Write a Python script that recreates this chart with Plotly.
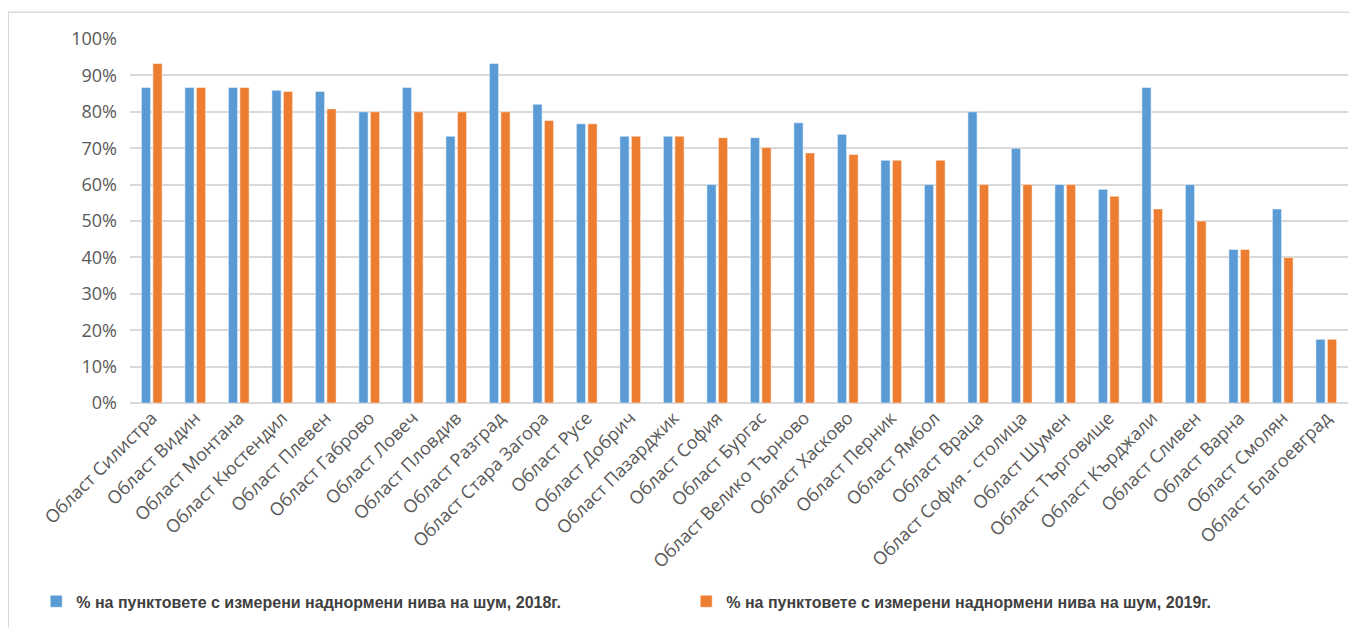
import plotly.graph_objects as go

categories = [
    "Област Силистра", "Област Видин", "Област Монтана", "Област Кюстендил",
    "Област Плевен", "Област Габрово", "Област Ловеч", "Област Пловдив",
    "Област Разград", "Област Стара Загора", "Област Русе", "Област Добрич",
    "Област Пазарджик", "Област София", "Област Бургас", "Област Велико Търново",
    "Област Хасково", "Област Перник", "Област Ямбол", "Област Враца",
    "Област София - столица", "Област Шумен", "Област Търговище", "Област Кърджали",
    "Област Сливен", "Област Варна", "Област Смолян", "Област Благоевград",
]

values_2018 = [0.867, 0.867, 0.867, 0.859, 0.856, 0.80, 0.867, 0.733,
               0.933, 0.821, 0.767, 0.733, 0.733, 0.60, 0.729, 0.770,
               0.738, 0.667, 0.60, 0.80, 0.70, 0.60, 0.587, 0.867,
               0.60, 0.422, 0.533, 0.175]
values_2019 = [0.933, 0.867, 0.867, 0.856, 0.808, 0.80, 0.80, 0.80,
               0.80, 0.776, 0.767, 0.733, 0.733, 0.729, 0.702, 0.687,
               0.683, 0.667, 0.667, 0.60, 0.60, 0.60, 0.568, 0.533,
               0.50, 0.422, 0.40, 0.175]

name_2018 = "% на пунктовете с измерени наднормени нива на шум, 2018г."
name_2019 = "% на пунктовете с измерени наднормени нива на шум, 2019г."

fig = go.Figure()
fig.add_trace(go.Bar(x=categories, y=values_2018, name=name_2018,
                     marker=dict(color="#5B9BD5", line=dict(color="#FFFFFF", width=0.5))))
fig.add_trace(go.Bar(x=categories, y=values_2019, name=name_2019,
                     marker=dict(color="#ED7D31", line=dict(color="#FFFFFF", width=0.5))))

fig.update_layout(
    width=1349, height=620,
    margin=dict(l=122, r=9, t=31, b=223),
    paper_bgcolor="white", plot_bgcolor="white",
    barmode="group", bargap=0.47, bargroupgap=0.2,
    font=dict(family="Open Sans, sans-serif", color="#595959"),
    showlegend=True,
    legend=dict(orientation="h", x=-0.077, y=-0.545, xanchor="left", yanchor="middle",
                font=dict(family="Liberation Sans, Arial, sans-serif",
                          size=16, color="#404040", weight="bold"),
                entrywidth=605, entrywidthmode="pixels", itemwidth=30),
    shapes=[dict(type="rect", xref="paper", yref="paper",
                 x0=-0.1, x1=1.03, y0=-0.65, y1=1.0738,
                 line=dict(color="#D9D9D9", width=1.5), fillcolor="rgba(0,0,0,0)")],
)
fig.update_yaxes(range=[0, 1.0], tickvals=[i / 10 for i in range(11)], tickformat=".0%",
                 showgrid=True, gridcolor="#D9D9D9", gridwidth=1.5,
                 zeroline=True, zerolinecolor="#D9D9D9", zerolinewidth=1.5,
                 tickfont=dict(size=18, color="#595959"), ticks="", ticklen=0,
                 ticklabelstandoff=12, showline=False, automargin=False)
fig.update_xaxes(tickangle=-45, tickfont=dict(size=18, color="#595959"),
                 showline=False, ticks="", automargin=False)

fig.write_html("out.html")
